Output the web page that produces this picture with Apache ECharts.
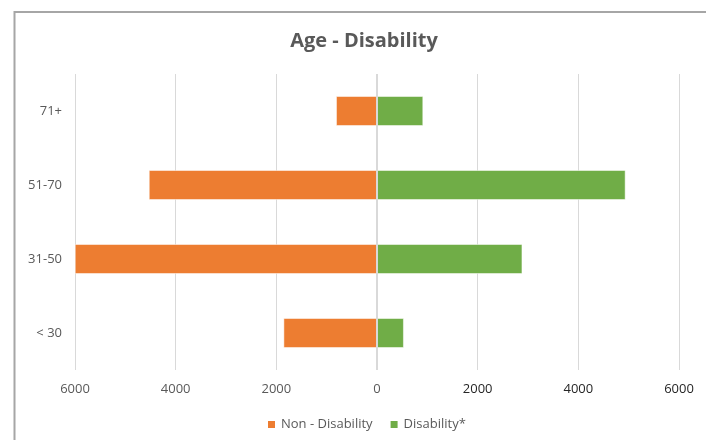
<!DOCTYPE html>
<html>
<head>
<meta charset="utf-8">
<title>Age - Disability</title>
<script src="https://cdn.jsdelivr.net/npm/echarts@6/dist/echarts.min.js"></script>
<style>
  html, body { margin: 0; padding: 0; background: #fff; }
  #main { width: 706px; height: 440px; }
</style>
</head>
<body>
<div id="main"></div>
<script>
// data
var ageGroups = ['< 30', '31-50', '51-70', '71+'];
var nonDisability = [1855, 6000, 4530, 810];
var disability = [530, 2885, 4935, 915];
var seriesNames = ['Non - Disability', 'Disability*'];
var colors = ['#ED7D31', '#70AD47'];

var font = 'Open Sans';
var myChart = echarts.init(document.getElementById('main'));

var option = {
    animation: false,
    color: colors,
    title: {
        text: 'Age - Disability',
        left: 359,
        top: 26,
        textAlign: 'center',
        textStyle: {
            fontFamily: font,
            fontSize: 20,
            fontWeight: 'bold',
            color: '#595959'
        }
    },
    graphic: [{
        type: 'rect',
        shape: { x: 14.5, y: 12, width: 720, height: 460 },
        style: { fill: 'none', stroke: '#a6a6a6', lineWidth: 2 },
        silent: true
    }],
    legend: {
        data: seriesNames,
        left: 261,
        top: 413,
        icon: 'rect',
        itemWidth: 9,
        itemHeight: 9,
        itemGap: 16,
        textStyle: {
            fontFamily: font,
            fontSize: 13,
            color: '#595959'
        }
    },
    grid: {
        left: 75,
        right: 27,
        top: 74,
        bottom: 70,
        containLabel: false
    },
    xAxis: {
        type: 'value',
        min: -6000,
        max: 6000,
        interval: 2000,
        axisLine: { show: false },
        axisTick: { show: false },
        splitLine: { lineStyle: { color: '#d9d9d9', width: 1 } },
        axisLabel: {
            fontFamily: font,
            fontSize: 13,
            margin: 13,
            color: function (value) {
                return value > 0 ? '#262626' : '#595959';
            },
            formatter: function (value) {
                return Math.abs(value);
            }
        }
    },
    yAxis: {
        type: 'category',
        data: ageGroups,
        axisLine: { show: false },
        axisTick: { show: false },
        axisLabel: {
            fontFamily: font,
            fontSize: 13,
            margin: 13,
            color: '#595959'
        }
    },
    series: [{
        name: seriesNames[0],
        type: 'bar',
        stack: 'age',
        barWidth: 29.5,
        itemStyle: { color: colors[0], borderColor: '#fff', borderWidth: 0.5 },
        data: nonDisability.map(function (v) { return -v; })
    }, {
        name: seriesNames[1],
        type: 'bar',
        stack: 'age',
        barWidth: 29.5,
        itemStyle: { color: colors[1], borderColor: '#fff', borderWidth: 0.5 },
        data: disability,
        markLine: {
            silent: true,
            symbol: 'none',
            label: { show: false },
            lineStyle: { color: '#d9d9d9', type: 'solid', width: 2 },
            data: [{ xAxis: 0 }]
        }
    }]
};

myChart.setOption(option);
</script>
</body>
</html>
